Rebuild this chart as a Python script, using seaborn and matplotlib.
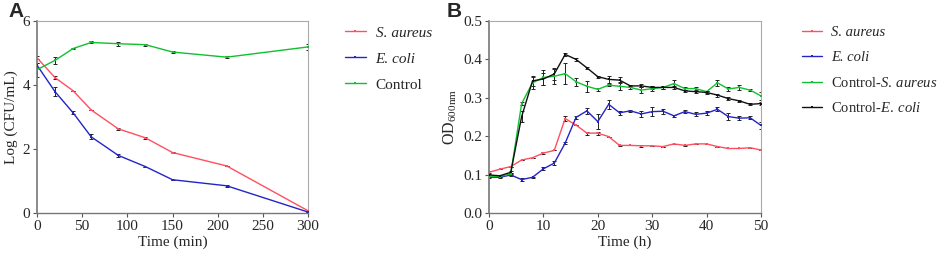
import numpy as np
import pandas as pd
import matplotlib
matplotlib.use("Agg")
import matplotlib.pyplot as plt
import seaborn as sns

# ---- Panel A data ----
time_a = [0, 20, 40, 60, 90, 120, 150, 210, 300]
sa_a = [4.85, 4.23, 3.82, 3.22, 2.63, 2.35, 1.89, 1.47, 0.07]
sa_a_err = [0.05, 0.04, 0.0, 0.0, 0.04, 0.03, 0.03, 0.0, 0.0]
ec_a = [4.62, 3.79, 3.13, 2.38, 1.80, 1.45, 1.04, 0.85, 0.03]
ec_a_err = [0.08, 0.14, 0.05, 0.08, 0.05, 0.0, 0.0, 0.03, 0.0]
ctl_a = [4.48, 4.77, 5.14, 5.33, 5.29, 5.26, 5.03, 4.87, 5.19]
ctl_a_err = [0.22, 0.12, 0.03, 0.03, 0.06, 0.03, 0.04, 0.04, 0.1]
labels_a = ["S. aureus", "E. coli", "Control"]

# ---- Panel B data ----
time_b = list(range(0, 52, 2))
sa_b = [0.106, 0.114, 0.121, 0.138, 0.144, 0.156, 0.163, 0.246, 0.229, 0.208,
        0.208, 0.199, 0.176, 0.176, 0.175, 0.175, 0.173, 0.180, 0.176, 0.180,
        0.180, 0.173, 0.168, 0.168, 0.170, 0.164]
sa_b_err = [0.003, 0, 0, 0, 0, 0.003, 0, 0.006, 0, 0.004,
            0.004, 0, 0.002, 0, 0.002, 0, 0, 0, 0.002, 0,
            0, 0, 0, 0, 0, 0]
ec_b = [0.093, 0.093, 0.099, 0.087, 0.093, 0.115, 0.130, 0.182, 0.249, 0.266,
        0.238, 0.283, 0.261, 0.266, 0.258, 0.264, 0.265, 0.253, 0.264, 0.257,
        0.260, 0.270, 0.251, 0.247, 0.248, 0.228]
ec_b_err = [0.003, 0.003, 0.003, 0.003, 0.002, 0.004, 0.005, 0.003, 0.004, 0.007,
            0.020, 0.012, 0.005, 0.003, 0.007, 0.012, 0.006, 0.003, 0.004, 0.005,
            0.005, 0.005, 0.010, 0.005, 0.004, 0.010]
cs_b = [0.095, 0.095, 0.102, 0.285, 0.339, 0.353, 0.356, 0.363, 0.342, 0.330,
        0.322, 0.333, 0.330, 0.327, 0.320, 0.324, 0.327, 0.337, 0.324, 0.324,
        0.316, 0.339, 0.323, 0.327, 0.320, 0.305]
cs_b_err = [0.002, 0.002, 0.003, 0.005, 0.015, 0.020, 0.020, 0.028, 0.010, 0.015,
            0.003, 0.003, 0.010, 0.003, 0.008, 0.006, 0.004, 0.010, 0.003, 0.003,
            0.003, 0.008, 0.004, 0.007, 0.003, 0.010]
ce_b = [0.099, 0.097, 0.106, 0.251, 0.344, 0.349, 0.362, 0.413, 0.400, 0.378,
        0.355, 0.348, 0.346, 0.331, 0.331, 0.327, 0.327, 0.327, 0.318, 0.316,
        0.314, 0.307, 0.298, 0.292, 0.283, 0.285]
ce_b_err = [0.003, 0.003, 0.003, 0.015, 0.012, 0.015, 0.015, 0.003, 0.004, 0.003,
            0.003, 0.010, 0.008, 0.003, 0.004, 0.003, 0.003, 0.003, 0.003, 0.003,
            0.003, 0.004, 0.005, 0.003, 0.003, 0.003]
labels_b = ["S. aureus", "E. coli",
            "Control-$\\mathit{S.\\:aureus}$", "Control-$\\mathit{E.\\:coli}$"]
italic_b = [True, True, False, False]
italic_a = [True, True, False]

colors_a = ["#ff4f60", "#2424c8", "#10c030"]
colors_b = ["#ff4f60", "#2424c8", "#10c030", "#111111"]

sns.set_style("ticks")
plt.rcParams["font.family"] = ["Liberation Serif", "DejaVu Serif"]
plt.rcParams["mathtext.fontset"] = "custom"
plt.rcParams["mathtext.rm"] = "Liberation Serif"
plt.rcParams["mathtext.it"] = "Liberation Serif:italic"
plt.rcParams["font.size"] = 11

FS = 11

fig = plt.figure(figsize=(9.41, 2.65), dpi=100)
axA = fig.add_axes([37 / 941, 1 - 213 / 265, (308 - 37) / 941, (213 - 21) / 265])
axB = fig.add_axes([489 / 941, 1 - 213 / 265, (761 - 489) / 941, (213 - 21) / 265])


def draw(ax, t, series, errs, labels, colors):
    frames = []
    for s, lab in zip(series, labels):
        frames.append(pd.DataFrame({"t": t, "v": s, "g": lab}))
    df = pd.concat(frames, ignore_index=True)
    sns.lineplot(data=df, x="t", y="v", hue="g", hue_order=labels,
                 palette=colors, ax=ax, marker="s", markersize=2.0,
                 markeredgewidth=0, linewidth=1.0, legend=False, zorder=3)
    for s, e, c in zip(series, errs, colors):
        ax.errorbar(t, s, yerr=e, fmt="none", ecolor="#222222",
                    elinewidth=0.7, capsize=1.6, capthick=0.7, zorder=2)
    for sp in ax.spines.values():
        sp.set_visible(True)
        sp.set_color("#aaaaaa")
        sp.set_linewidth(0.8)
    ax.spines["left"].set_color("#777777")
    ax.spines["left"].set_linewidth(1.2)
    ax.spines["bottom"].set_color("#777777")
    ax.spines["bottom"].set_linewidth(1.0)
    ax.tick_params(direction="out", length=3, width=0.8, color="#555555",
                   labelsize=FS, pad=2)


draw(axA, time_a, [sa_a, ec_a, ctl_a], [sa_a_err, ec_a_err, ctl_a_err], labels_a, colors_a)
axA.set_xlim(0, 300)
axA.set_ylim(0, 6)
axA.set_xticks([0, 50, 100, 150, 200, 250, 300])
axA.set_yticks([0, 2, 4, 6])
axA.set_xlabel("Time (min)", fontsize=FS, labelpad=2)
axA.set_ylabel("Log (CFU/mL)", fontsize=FS, labelpad=3)

draw(axB, time_b, [sa_b, ec_b, cs_b, ce_b], [sa_b_err, ec_b_err, cs_b_err, ce_b_err], labels_b, colors_b)
axB.set_xlim(0, 50)
axB.set_ylim(0, 0.5)
axB.set_xticks([0, 10, 20, 30, 40, 50])
axB.set_yticks([0.0, 0.1, 0.2, 0.3, 0.4, 0.5])
axB.set_xlabel("Time (h)", fontsize=FS, labelpad=2)
axB.set_ylabel("OD$_{\\mathrm{600nm}}$", fontsize=FS + 0.5, labelpad=3)

for ax in (axA, axB):
    for lab in ax.get_xticklabels() + ax.get_yticklabels():
        lab.set_fontfamily("Liberation Serif")
        lab.set_fontsize(FS)


def legend(labels, colors, italics, x, y, fs):
    handles = [plt.Line2D([], [], color=c, lw=1.0, marker="s", markersize=2,
                          markeredgewidth=0) for c in colors]
    leg = fig.legend(handles, labels, loc="upper left", bbox_to_anchor=(x, y),
                     bbox_transform=fig.transFigure, frameon=False, fontsize=fs,
                     handlelength=1.35, handletextpad=0.65, labelspacing=0.8,
                     borderaxespad=0, borderpad=0)
    for txt, it in zip(leg.get_texts(), italics):
        if it:
            txt.set_fontstyle("italic")


legend(labels_a, colors_a, italic_a, 345 / 941, 1 - 26 / 265, FS)
legend(labels_b, colors_b, italic_b, 802 / 941, 1 - 26 / 265, 10.5)

fig.text(8 / 941, 1 - 2 / 265, "A", fontsize=15, fontweight="bold",
         family="Liberation Sans", va="top", ha="left")
fig.text(447 / 941, 1 - 2 / 265, "B", fontsize=15, fontweight="bold",
         family="Liberation Sans", va="top", ha="left")

fig.savefig("out.png", dpi=100)
